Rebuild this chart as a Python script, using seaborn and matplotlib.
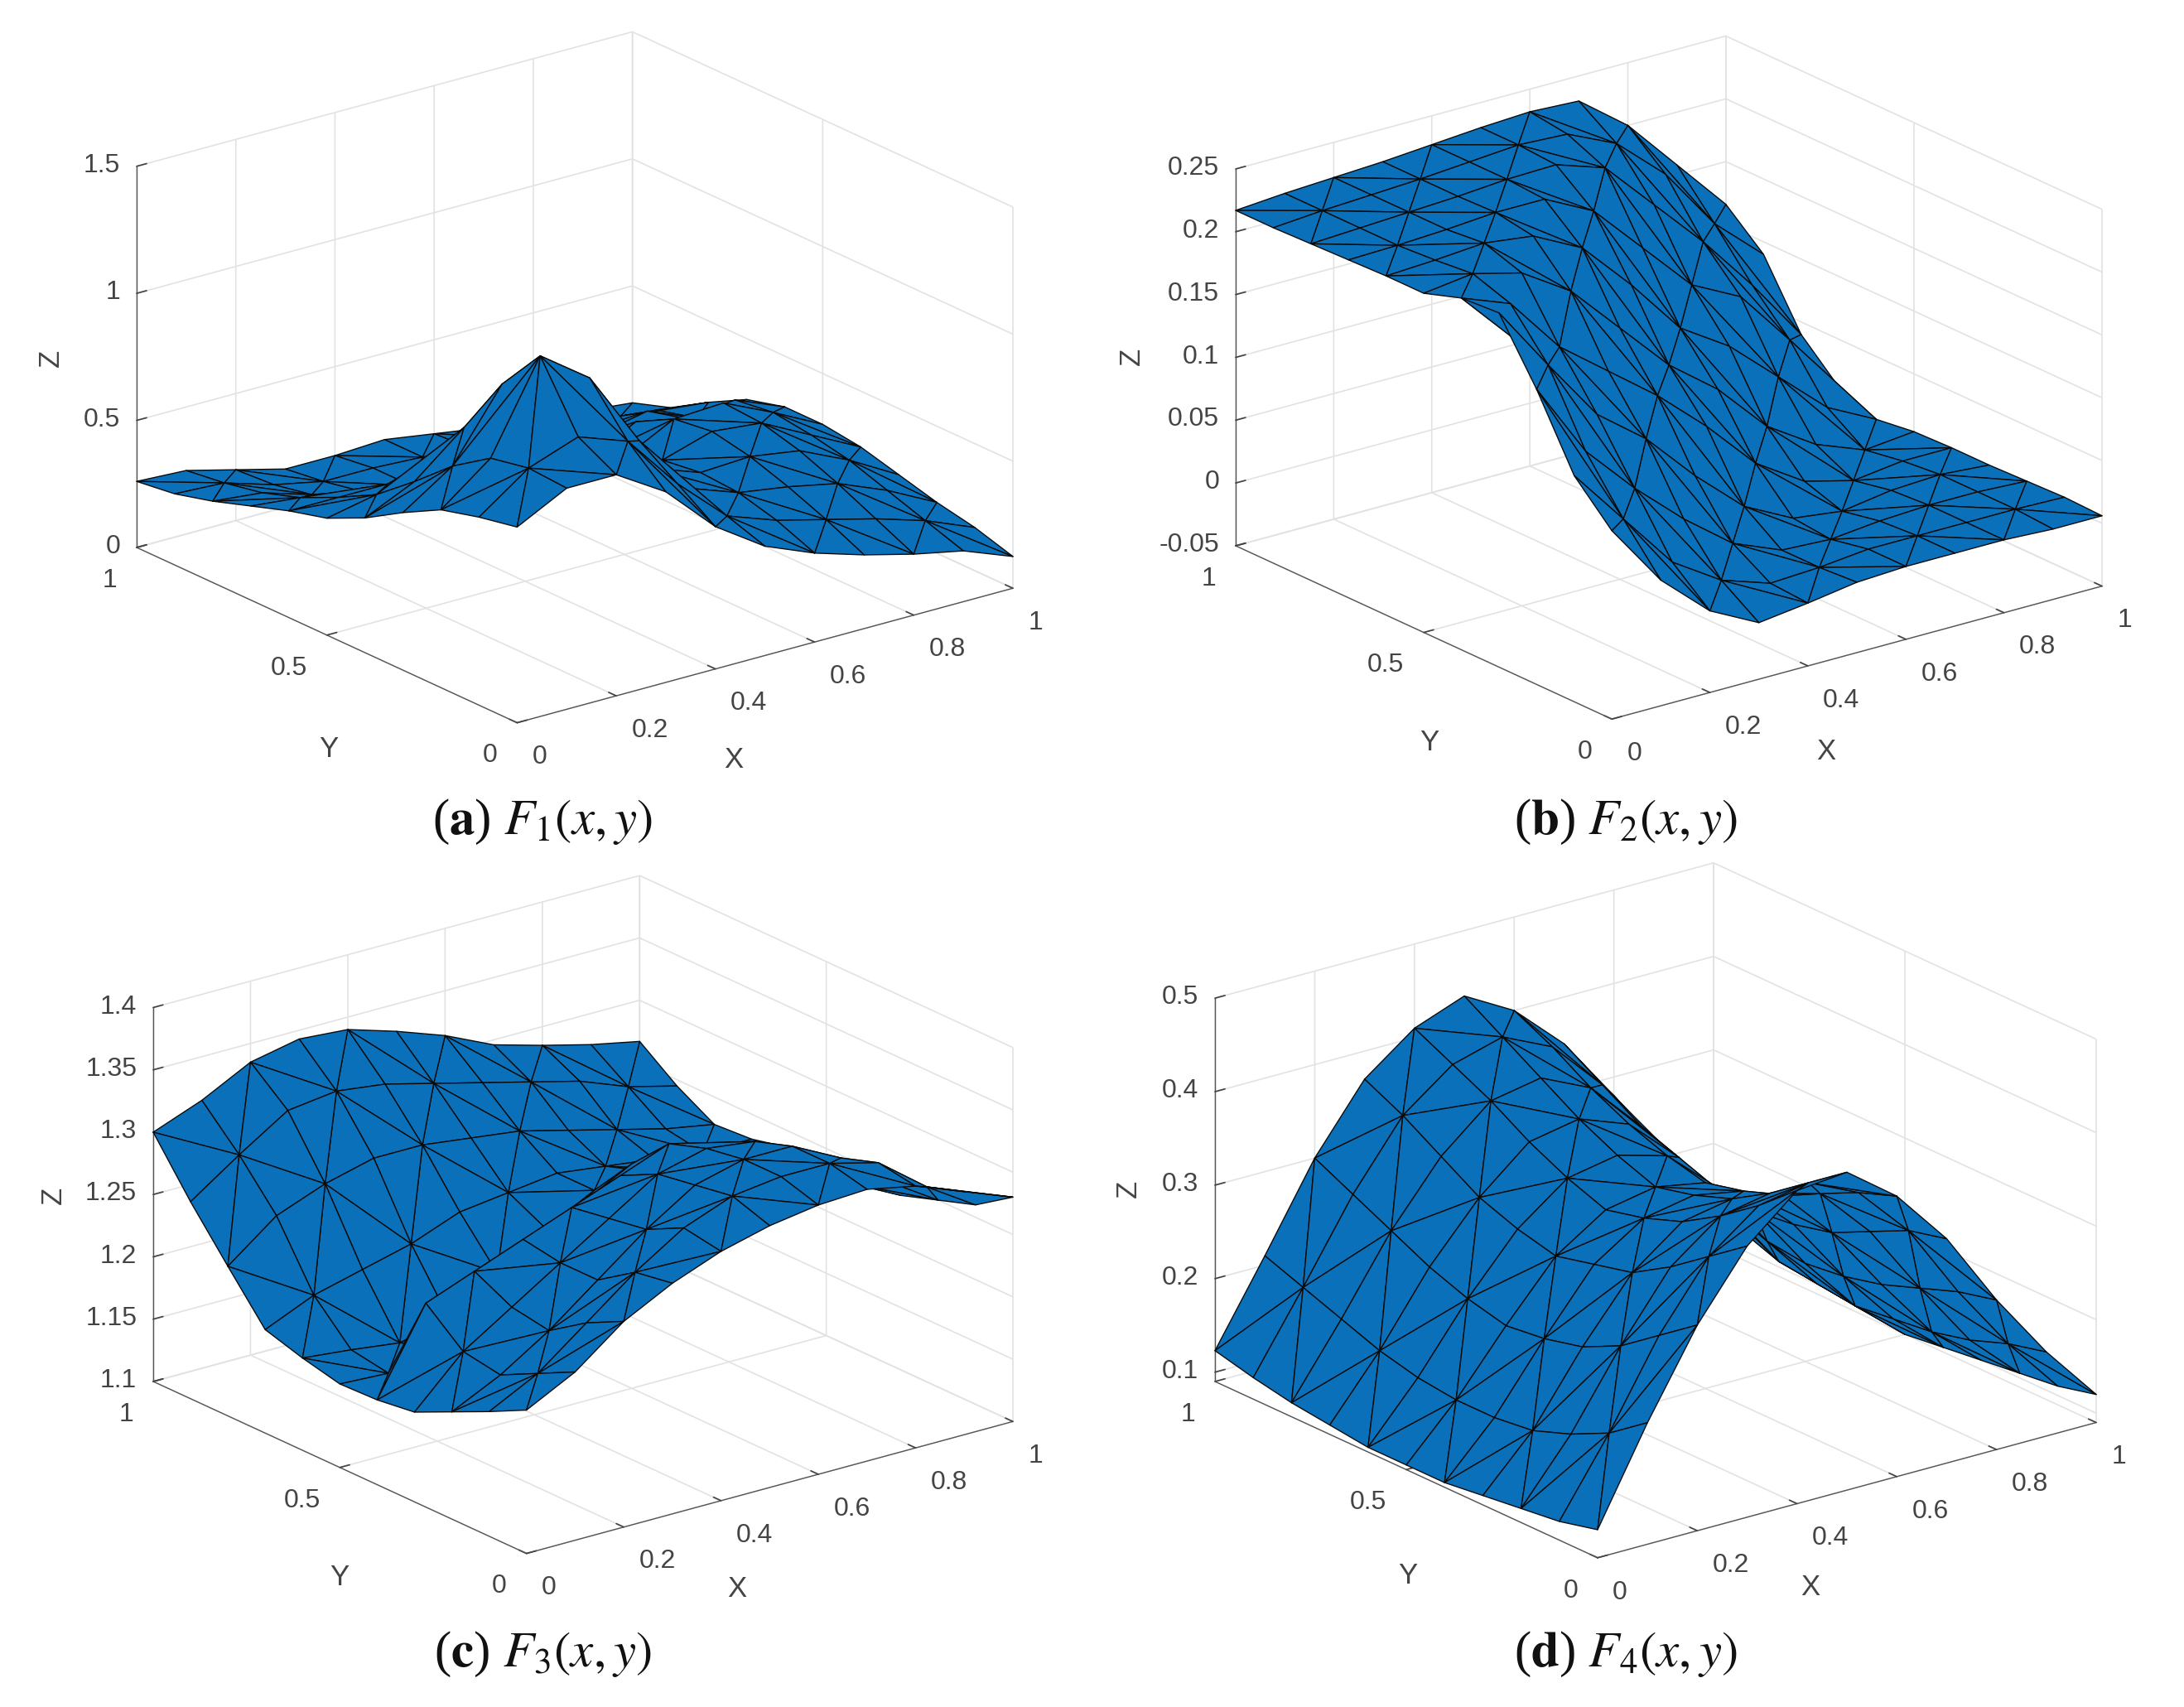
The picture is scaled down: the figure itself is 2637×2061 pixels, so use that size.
import numpy as np
import matplotlib
matplotlib.use("Agg")
import matplotlib.pyplot as plt
import seaborn as sns
from mpl_toolkits.mplot3d import proj3d

# --- Data (rows: y = 0 ... 1, columns: x = 0 ... 1) ---
GRID_X = [0.0, 0.1, 0.2, 0.3, 0.4, 0.5, 0.6, 0.7, 0.8, 0.9, 1.0]
GRID_Y = [0.0, 0.1, 0.2, 0.3, 0.4, 0.5, 0.6, 0.7, 0.8, 0.9, 1.0]

F1 = [
    [.77, .87, .87, .75, .56, .43, .35, .29, .24, .20, .125],
    [.74, .88, .95, .88, .66, .48, .41, .36, .31, .25, .17],
    [.70, .85, 1.20, 1.06, .76, .52, .45, .42, .38, .30, .20],
    [.62, .75, 1.02, 1.05, .85, .53, .46, .47, .44, .35, .24],
    [.53, .62, .78, .90, .72, .45, .44, .50, .48, .38, .28],
    [.46, .50, .58, .62, .50, .35, .38, .48, .49, .40, .30],
    [.42, .42, .42, .42, .34, .27, .30, .40, .36, .38, .30],
    [.37, .35, .31, .28, .24, .20, .22, .28, .32, .24, .26],
    [.32, .30, .24, .20, .17, .15, .16, .18, .20, .20, .18],
    [.28, .27, .21, .17, .17, .16, .14, .13, .12, .11, .09],
    [.26, .25, .20, .15, .15, .16, .13, .10, .08, .06, .04],
]
F2 = [
    [.10, .05, .015, -.005, .0, .006, .008, .008, .008, .006, .006],
    [.13, .085, .04, .015, .002, .004, .008, .008, .008, .008, .007],
    [.185, .125, .085, .05, .02, .004, .002, .006, .008, .008, .006],
    [.232, .18, .13, .10, .06, .025, .005, .0, .006, .008, .005],
    [.23, .215, .17, .14, .11, .075, .035, .01, .0, .005, .005],
    [.22, .225, .215, .19, .15, .11, .08, .04, .015, .0, .004],
    [.22, .222, .225, .22, .20, .16, .115, .09, .055, .02, .0],
    [.219, .22, .222, .225, .225, .205, .165, .125, .105, .06, .012],
    [.218, .22, .222, .224, .227, .228, .215, .175, .135, .09, .04],
    [.217, .22, .222, .224, .227, .23, .228, .21, .175, .125, .09],
    [.217, .22, .222, .224, .227, .23, .232, .23, .20, .158, .116],
]
F3 = [
    [1.215, 1.235, 1.265, 1.285, 1.30, 1.31, 1.316, 1.318, 1.31, 1.295, 1.28],
    [1.20, 1.22, 1.25, 1.28, 1.305, 1.32, 1.325, 1.325, 1.315, 1.285, 1.26],
    [1.186, 1.205, 1.23, 1.26, 1.29, 1.315, 1.325, 1.325, 1.305, 1.275, 1.25],
    [1.172, 1.21, 1.235, 1.26, 1.285, 1.31, 1.32, 1.315, 1.29, 1.26, 1.24],
    [1.168, 1.235, 1.25, 1.265, 1.28, 1.295, 1.31, 1.30, 1.27, 1.25, 1.235],
    [1.167, 1.165, 1.175, 1.195, 1.225, 1.26, 1.28, 1.275, 1.255, 1.24, 1.235],
    [1.174, 1.17, 1.165, 1.175, 1.20, 1.225, 1.245, 1.25, 1.24, 1.235, 1.237],
    [1.183, 1.20, 1.21, 1.22, 1.235, 1.24, 1.245, 1.24, 1.235, 1.23, 1.23],
    [1.22, 1.25, 1.265, 1.275, 1.275, 1.27, 1.265, 1.255, 1.245, 1.235, 1.228],
    [1.258, 1.285, 1.31, 1.315, 1.31, 1.30, 1.29, 1.28, 1.27, 1.255, 1.245],
    [1.30, 1.315, 1.335, 1.343, 1.34, 1.328, 1.314, 1.296, 1.285, 1.275, 1.267],
]
F4 = [
    [.12, .22, .31, .38, .425, .43, .39, .33, .25, .18, .12],
    [.11, .19, .28, .35, .39, .40, .375, .32, .24, .17, .11],
    [.105, .17, .25, .32, .36, .37, .355, .30, .225, .155, .105],
    [.10, .155, .23, .295, .335, .345, .335, .28, .21, .145, .10],
    [.095, .15, .22, .285, .32, .33, .32, .27, .20, .14, .095],
    [.095, .15, .215, .275, .31, .32, .31, .265, .195, .135, .09],
    [.095, .155, .225, .285, .325, .335, .32, .27, .20, .14, .095],
    [.10, .165, .24, .30, .345, .355, .335, .285, .215, .145, .10],
    [.105, .18, .26, .325, .37, .38, .355, .30, .235, .16, .105],
    [.113, .195, .28, .35, .39, .405, .38, .325, .255, .18, .12],
    [.123, .21, .30, .37, .41, .43, .40, .35, .28, .20, .14],
]

X_TICKS = [0, 0.2, 0.4, 0.6, 0.8, 1]
X_LABELS = ["0", "0.2", "0.4", "0.6", "0.8", "1"]
Y_TICKS = [0, 0.5, 1]
Y_LABELS = ["0", "0.5", "1"]

Z_TICKS = [
    [0, 0.5, 1, 1.5],
    [-0.05, 0, 0.05, 0.1, 0.15, 0.2, 0.25],
    [1.1, 1.15, 1.2, 1.25, 1.3, 1.35, 1.4],
    [0.1, 0.2, 0.3, 0.4, 0.5],
]
Z_LABELS = [
    ["0", "0.5", "1", "1.5"],
    ["-0.05", "0", "0.05", "0.1", "0.15", "0.2", "0.25"],
    ["1.1", "1.15", "1.2", "1.25", "1.3", "1.35", "1.4"],
    ["0.1", "0.2", "0.3", "0.4", "0.5"],
]
Z_LIMITS = [(0, 1.5), (-0.05, 0.25), (1.1, 1.4), (0.09, 0.5)]
CAPTIONS = [
    r"($\mathbf{a}$) $F_1(x,y)$",
    r"($\mathbf{b}$) $F_2(x,y)$",
    r"($\mathbf{c}$) $F_3(x,y)$",
    r"($\mathbf{d}$) $F_4(x,y)$",
]

# --- Layout in pixels of the output image ---
WIDTH, HEIGHT, DPI = 2637, 2061, 100
# left corner x, left corner y, right corner x
CORNERS = [(165, 661, 1223), (1492, 659, 2538), (185, 1668, 1223), (1467, 1668, 2531)]
CAPTION_XY = [(655, 992), (1963, 992), (655, 1997), (1963, 1997)]
X_LABEL_XY = [(886, 917), (2205, 908), (890, 1918), (2186, 1916)]
Y_LABEL_XY = [(397, 905), (1726, 897), (410, 1905), (1700, 1902)]
Z_LABEL_XY = [(61, 432), (1366, 430), (64, 1443), (1362, 1435)]
SURFACE_BLUE = "#0A70BA"

sns.set_theme(style="whitegrid", rc={
    "grid.color": "#e2e2e2", "grid.linewidth": 1.2,
    "axes.edgecolor": "#555555", "axes.linewidth": 1.0,
    "xtick.color": "#444444", "ytick.color": "#444444",
    "axes.labelcolor": "#444444", "text.color": "#111111",
    "mathtext.fontset": "stix",
})
plt.rcParams["font.family"] = ["Liberation Sans", "DejaVu Sans"]


def grid_triangles(nx, ny):
    """Splits a regular grid into triangles with alternating diagonals."""
    tris = []
    for j in range(ny - 1):
        for i in range(nx - 1):
            a, b = j * nx + i, j * nx + i + 1
            c, d = (j + 1) * nx + i, (j + 1) * nx + i + 1
            if (i + j) % 2 == 0:
                tris += [[a, b, d], [a, d, c]]
            else:
                tris += [[a, b, c], [b, d, c]]
    return tris


def fit_axes(fig, ax, corners, z0):
    """Moves the axes so the floor corners land on the wanted pixels."""
    left_x, left_y, right_x = corners
    for _ in range(2):
        fig.canvas.draw()
        xs, ys, _z = proj3d.proj_transform(np.array([0., 1.]), np.array([1., 0.]),
                                           np.array([z0, z0]), ax.get_proj())
        pts = ax.transData.transform(np.column_stack([xs, ys]))
        scale = (right_x - left_x) / (pts[1, 0] - pts[0, 0])
        pos = ax.get_position(original=True)
        cx = (pos.x0 + pos.width / 2) * WIDTH
        cy = (pos.y0 + pos.height / 2) * HEIGHT
        dx, dy = pts[0, 0] - cx, pts[0, 1] - cy
        new_cx = left_x - dx * scale
        new_cy = (HEIGHT - left_y) - dy * scale
        w, h = pos.width * scale, pos.height * scale
        ax.set_position([new_cx / WIDTH - w / 2, new_cy / HEIGHT - h / 2, w, h])


def px_text(fig, xy, text, **kwargs):
    return fig.text(xy[0] / WIDTH, 1 - xy[1] / HEIGHT, text, ha="center", va="center", **kwargs)


def draw_surface(fig, idx, z_rows):
    ax = fig.add_axes([0.05 + 0.5 * (idx % 2), 0.55 - 0.5 * (idx // 2), 0.4, 0.4],
                      projection="3d", proj_type="ortho")
    ax.patch.set_alpha(0)
    xx, yy = np.meshgrid(GRID_X, GRID_Y)
    ax.plot_trisurf(xx.ravel(), yy.ravel(), np.array(z_rows).ravel(),
                    triangles=grid_triangles(len(GRID_X), len(GRID_Y)),
                    color=SURFACE_BLUE, edgecolor="#0a0a0a", linewidth=1.0, shade=False)
    ax.view_init(elev=20.7, azim=-127.5)
    ax.set_box_aspect((1, 1, 0.652))
    zlim = Z_LIMITS[idx]
    ax.set_xlim(0, 1, view_margin=0)
    ax.set_ylim(0, 1, view_margin=0)
    ax.set_zlim(zlim[0], zlim[1], view_margin=0)
    ax.set_xticks(X_TICKS, X_LABELS)
    ax.set_yticks(Y_TICKS, Y_LABELS)
    ax.set_zticks(Z_TICKS[idx], Z_LABELS[idx])
    ax.tick_params(labelsize=23, pad=9, colors="#444444")
    ax.tick_params(axis="z", pad=0)
    plt.setp(ax.get_xticklabels(), ha="left")
    plt.setp(ax.get_yticklabels(), ha="right")
    plt.setp(ax.get_zticklabels(), ha="right", va="center")
    for axis in (ax.xaxis, ax.yaxis, ax.zaxis):
        axis.set_pane_color((1, 1, 1, 0))
        axis.pane.set_edgecolor("#e2e2e2")
        axis.line.set_color("#555555")
        axis._axinfo["tick"]["inward_factor"] = 0.0
        axis._axinfo["tick"]["outward_factor"] = 0.25
    fit_axes(fig, ax, CORNERS[idx], zlim[0])
    return ax


def main():
    fig = plt.figure(figsize=(WIDTH / DPI, HEIGHT / DPI), dpi=DPI, facecolor="white")
    for idx, z_rows in enumerate([F1, F2, F3, F4]):
        draw_surface(fig, idx, z_rows)
        px_text(fig, X_LABEL_XY[idx], "X", fontsize=25, color="#444444")
        px_text(fig, Y_LABEL_XY[idx], "Y", fontsize=25, color="#444444")
        px_text(fig, Z_LABEL_XY[idx], "Z", fontsize=25, color="#444444", rotation=90)
        px_text(fig, CAPTION_XY[idx], CAPTIONS[idx], fontsize=44,
                family="Liberation Serif", color="#111111")
    fig.savefig("out.png", dpi=DPI)
    plt.close(fig)


if __name__ == "__main__":
    main()
